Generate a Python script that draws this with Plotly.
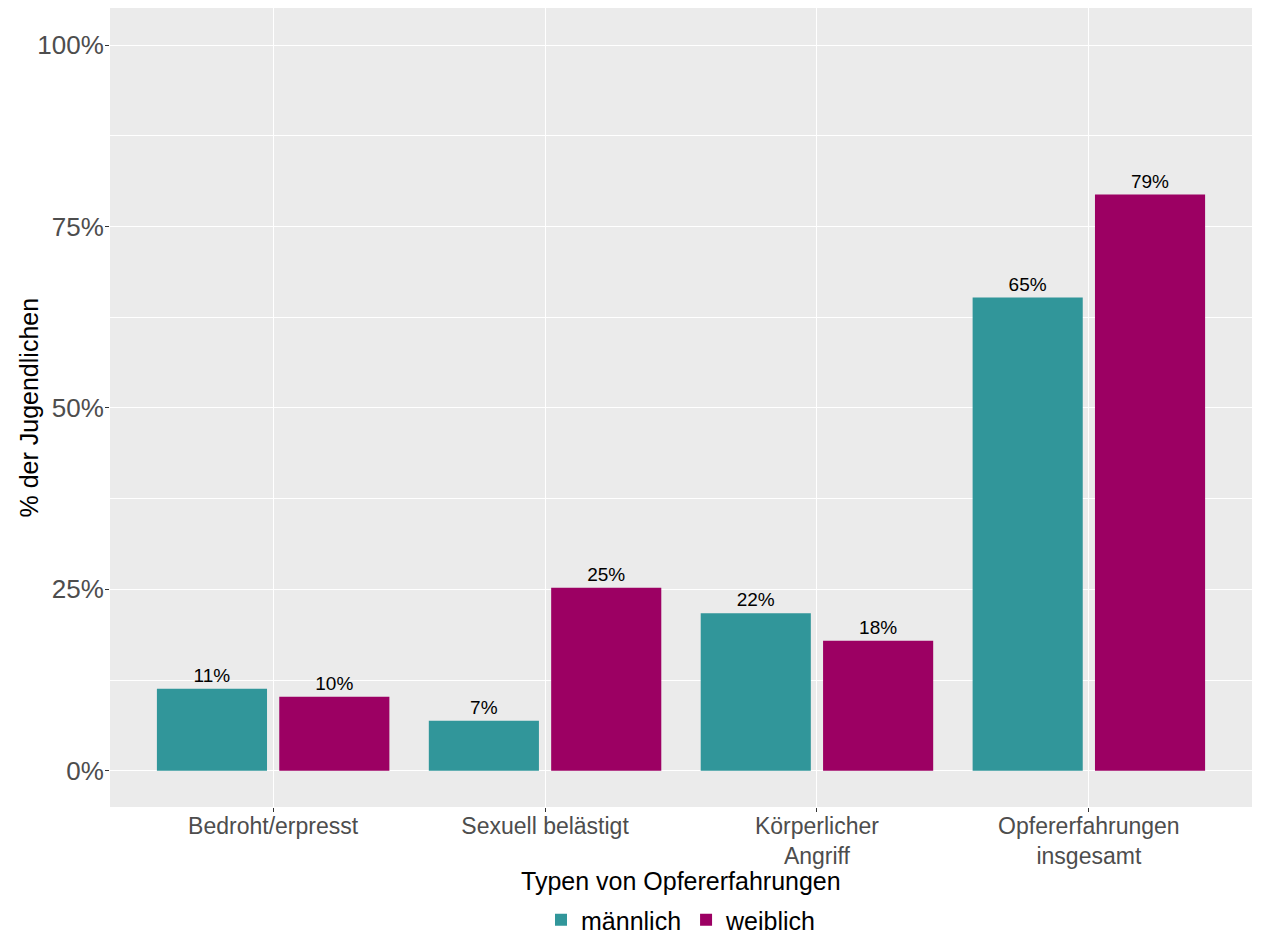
import plotly.graph_objects as go

categories = ["Bedroht/erpresst", "Sexuell belästigt", "Körperlicher<br>Angriff", "Opfererfahrungen<br>insgesamt"]
maennlich = [11.3, 6.9, 21.7, 65.2]
weiblich = [10.2, 25.2, 17.9, 79.4]
labels_m = ["11%", "7%", "22%", "65%"]
labels_w = ["10%", "25%", "18%", "79%"]
y_ticks = [0, 25, 50, 75, 100]
y_ticktext = ["0%", "25%", "50%", "75%", "100%"]

FONT = "Liberation Sans, Arial, sans-serif"
TEAL = "#31969A"
MAG = "#9C0063"

# page body has an 8px margin, so figure is 8px smaller and shifted
W, H = 1254, 929
PANEL_H = 799

fig = go.Figure()
fig.add_trace(go.Bar(
    x=categories, y=maennlich, name="männlich", marker=dict(color=TEAL, line=dict(width=0)),
    width=0.405, offset=-0.4275, text=labels_m, textposition="outside",
    textfont=dict(size=19, color="black", family=FONT), cliponaxis=False,
))
fig.add_trace(go.Bar(
    x=categories, y=weiblich, name="weiblich", marker=dict(color=MAG, line=dict(width=0)),
    width=0.405, offset=0.0225, text=labels_w, textposition="outside",
    textfont=dict(size=19, color="black", family=FONT), cliponaxis=False,
))

fig.update_layout(
    width=W, height=H,
    barmode="overlay",
    paper_bgcolor="white", plot_bgcolor="#EBEBEB",
    margin=dict(l=102, r=10, t=0, b=130, autoexpand=False),
    font=dict(family=FONT),
    showlegend=True,
    legend=dict(orientation="h", x=0.5, xanchor="center", y=-(912 - 799) / PANEL_H, yanchor="middle",
                font=dict(size=25, color="black", family=FONT), traceorder="normal",
                itemwidth=30, bgcolor="rgba(0,0,0,0)"),
    xaxis=dict(
        type="category", range=[-0.6, 3.6], showgrid=True, gridcolor="white", gridwidth=1.1,
        ticks="outside", ticklen=4, tickcolor="#333333", tickwidth=1, ticklabelstandoff=-6,
        tickfont=dict(size=23, color="#4D4D4D", family=FONT), zeroline=False, showline=False,
    ),
    yaxis=dict(
        range=[-5.0, 105.1], tickvals=y_ticks, ticktext=y_ticktext, showgrid=True,
        gridcolor="white", gridwidth=1.1, zeroline=False, showline=False,
        ticks="outside", ticklen=4, tickcolor="#333333", tickwidth=1, ticklabelstandoff=-4,
        tickfont=dict(size=26, color="#4D4D4D", family=FONT),
        minor=dict(tickvals=[12.5, 37.5, 62.5, 87.5], showgrid=True, gridcolor="white", gridwidth=0.55, ticks=""),
    ),
    annotations=[
        dict(text="Typen von Opfererfahrungen", x=0.5, xref="paper", y=-(873 - 799) / PANEL_H, yref="paper",
             showarrow=False, xanchor="center", yanchor="middle",
             font=dict(size=25, color="black", family=FONT)),
        dict(text="% der Jugendlichen", x=-(102 - 20) / 1142, xref="paper", y=0.5, yref="paper",
             showarrow=False, xanchor="center", yanchor="middle", textangle=-90,
             font=dict(size=25, color="black", family=FONT)),
    ],
)

fig.write_html("out.html")
